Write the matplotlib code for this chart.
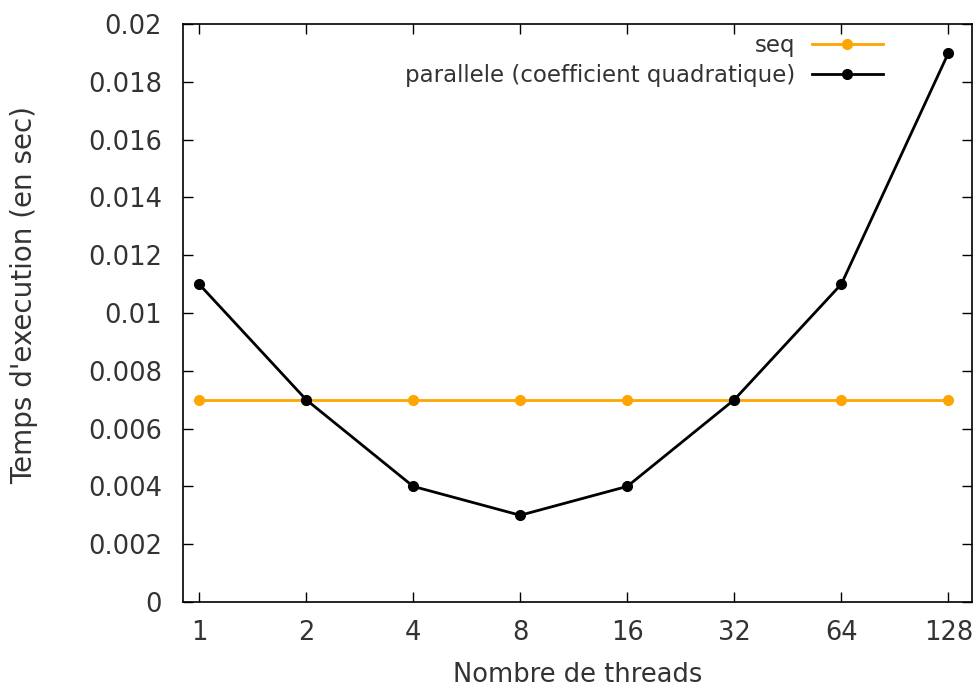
import matplotlib
matplotlib.use("Agg")
import matplotlib.pyplot as plt
import numpy as np

# nombre de threads et temps mesures
threads = ["1", "2", "4", "8", "16", "32", "64", "128"]
seq = [0.007, 0.007, 0.007, 0.007, 0.007, 0.007, 0.007, 0.007]
parallele = [0.011, 0.007, 0.004, 0.003, 0.004, 0.007, 0.011, 0.019]

plt.rcParams['font.family'] = ['DejaVu Sans']

fig = plt.figure(figsize=(9.76, 6.89), dpi=100)
ax = fig.add_axes([0.1875, 0.1263, 0.8084, 0.8389])

x = np.arange(len(threads))
ax.plot(x, seq, color="#ffa500", lw=2, marker="o", ms=7, label="seq")
ax.plot(x, parallele, color="black", lw=2, marker="o", ms=7,
        label="parallele (coefficient quadratique)")

ax.set_xlim(-0.15, 7.22)
ax.set_ylim(0, 0.02)
ax.set_xticks(x)
ax.set_xticklabels(threads)
ax.set_yticks(np.arange(0, 0.0201, 0.002))
ax.set_yticklabels(["0"] + ["%g" % v for v in np.arange(0.002, 0.0201, 0.002)])

ax.tick_params(direction="in", length=7, width=1, top=True, right=True,
               labelsize=18.5, labelcolor="#333333")
ax.tick_params(axis="y", pad=15)
ax.tick_params(axis="x", pad=13)
for s in ax.spines.values():
    s.set_linewidth(1.2)

ax.set_xlabel("Nombre de threads", fontsize=18.5, color="#333333")
ax.set_ylabel("Temps d'execution (en sec)", fontsize=20, color="#333333")
ax.xaxis.set_label_coords(0.5, -0.104)
ax.yaxis.set_label_coords(-0.184, 0.531)

ax.legend(loc="upper right", bbox_to_anchor=(0.887, 0.982), frameon=False,
          markerfirst=False, fontsize=16.5, handlelength=3.1, handletextpad=0.74,
          labelspacing=0.27, borderaxespad=0, borderpad=0,
          labelcolor="#333333")

fig.savefig("out.png", dpi=100)
